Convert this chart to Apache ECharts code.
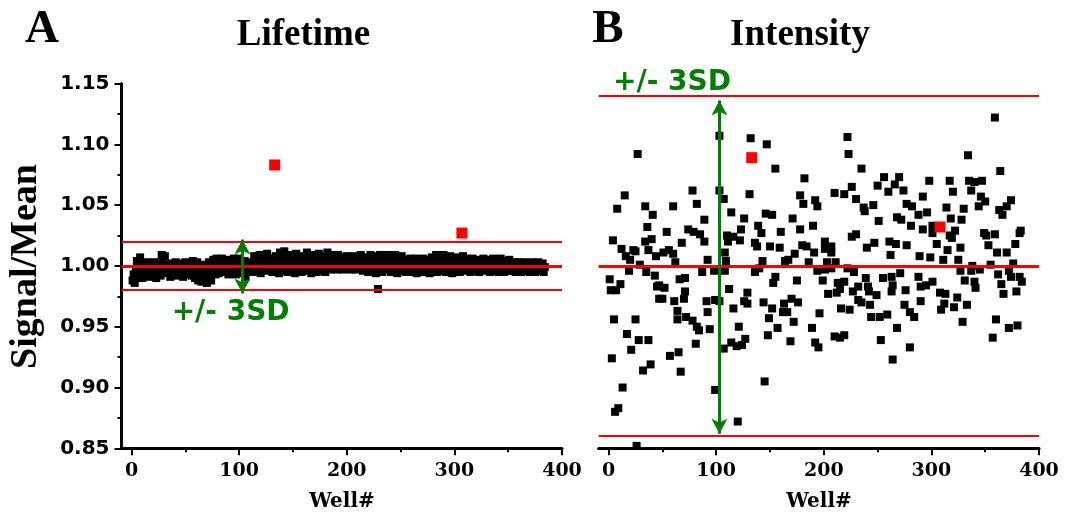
<!DOCTYPE html>
<html>
<head>
<meta charset="utf-8">
<script src="https://cdn.jsdelivr.net/npm/echarts@6/dist/echarts.min.js"></script>
<style>html,body{margin:0;padding:0;background:#fff}#c{width:1065px;height:512px}</style>
</head>
<body>
<div id="c"></div>
<script>
// ---- Panel A: Lifetime, Signal/Mean for wells 1..384 ----
const lifetimeValues = [
0.988,0.993,0.986,0.996,1.004,0.991,0.998,1.007,0.995,0.990,1.002,0.997,0.992,1.003,0.999,0.994,
0.991,1.001,0.996,0.993,1.003,0.998,0.990,0.995,1.002,0.997,0.992,1.009,1.004,0.996,1.008,0.999,
0.994,1.001,0.997,0.991,1.002,0.995,0.999,0.993,1.003,0.996,0.992,1.000,0.994,0.998,1.002,0.991,
0.996,1.003,0.993,0.999,0.995,1.002,0.997,0.992,1.004,0.998,0.990,0.995,1.003,0.988,0.993,0.999,
0.987,0.994,1.001,0.989,0.996,0.986,0.992,1.003,0.998,0.988,0.995,1.005,0.999,0.993,1.006,0.997,
0.994,1.002,0.998,1.006,0.995,1.000,1.004,0.996,1.001,0.993,1.005,0.998,1.002,0.995,1.006,0.999,
0.993,1.003,0.997,1.006,0.999,0.994,1.002,0.996,1.004,0.991,0.998,1.001,0.995,1.003,0.997,1.000,
0.996,1.008,1.001,0.995,1.006,0.999,1.009,0.994,1.003,0.998,1.007,0.996,1.002,1.010,0.997,1.004,
0.999,1.006,0.995,1.002,1.000,1.008,0.997,1.004,0.994,1.011,1.001,0.996,1.006,1.012,0.998,1.003,
0.995,1.009,1.002,0.997,1.007,0.999,1.004,0.994,1.010,1.001,0.997,1.006,1.002,0.995,1.008,0.999,
1.004,0.996,1.011,1.001,0.997,1.007,0.994,1.003,1.009,0.998,1.005,0.995,1.002,1.010,0.999,1.004,
0.996,1.008,1.001,0.995,1.006,1.011,0.998,1.003,0.997,1.009,1.002,0.999,1.006,1.001,0.997,1.009,
1.003,0.998,1.007,1.001,0.997,1.004,1.000,1.008,0.998,1.003,1.006,0.997,1.002,1.008,0.999,1.004,
0.997,1.006,1.001,0.998,1.009,1.003,0.996,1.005,1.001,0.998,1.007,0.995,1.002,1.009,0.999,1.004,
0.997,1.003,0.994,1.008,0.981,0.996,1.009,1.002,0.995,1.006,1.000,0.997,1.004,1.009,0.998,1.003,
0.995,1.007,1.001,0.997,1.009,1.003,0.994,1.006,1.000,0.996,1.008,1.002,0.998,1.005,0.995,1.001,
1.004,0.997,1.006,1.000,0.995,1.003,0.998,1.006,0.994,1.001,1.005,0.997,1.002,0.995,1.006,0.999,
1.003,0.996,1.005,0.999,0.994,1.002,1.007,0.997,1.004,0.999,1.009,0.995,1.003,1.008,0.998,1.004,
0.996,1.009,1.001,0.995,1.006,1.002,0.997,1.008,1.000,0.994,1.005,1.001,0.997,1.007,0.999,1.003,
0.995,1.004,0.998,1.008,1.001,0.996,1.006,1.002,0.997,1.005,0.995,1.001,1.006,0.998,1.003,0.996,
1.005,0.999,0.995,1.004,1.001,0.997,1.006,0.998,1.002,0.996,1.005,1.000,0.995,1.003,0.998,1.006,
1.001,0.996,1.004,0.999,0.995,1.002,1.006,0.997,1.001,0.995,1.004,0.998,1.002,0.996,1.005,0.999,
0.996,1.002,0.998,1.003,0.995,1.000,1.003,0.997,1.001,0.995,1.002,0.998,1.003,0.996,1.001,0.997,
1.002,0.995,0.999,1.003,0.997,1.001,0.995,1.002,0.998,1.003,0.996,1.000,0.997,1.002,0.995,0.999
];
const lifetimeOutliers = [[133, 1.083], [307, 1.027]];
const lifetimeLines = [1.0217, 1.0, 0.9773];   // +3SD, mean, -3SD

// ---- Panel B: Intensity, [well, Signal/Mean] ----
const intensityPoints = [
[27,1.092],[15,1.058],[8,1.047],[34,1.049],[41,1.042],[60,1.049],[78,1.062],[82,1.051],[36,1.032],[54,1.028],
[4,1.021],[12,1.014],[34,1.020],[40,1.022],[37,1.013],[23,1.013],[16,1.008],[20,1.005],[25,1.012],[44,1.008],
[51,1.011],[56,1.013],[60,1.010],[62,1.003],[68,1.019],[74,1.030],[79,1.028],[85,1.026],[89,1.020],[89,1.038],
[92,1.005],[19,0.996],[29,1.001],[35,0.995],[43,0.992],[47,0.984],[52,0.982],[45,0.983],[1,0.989],[2,0.980],
[7,0.980],[11,0.985],[47,0.973],[50,0.973],[61,0.971],[66,0.989],[71,0.990],[70,0.973],[71,0.979],[64,0.963],
[64,0.956],[72,0.958],[78,0.955],[82,0.950],[84,0.947],[87,0.995],[91,0.971],[92,0.962],[94,0.948],[81,0.936],
[5,0.956],[25,0.956],[17,0.944],[28,0.939],[37,0.939],[21,0.931],[3,0.924],[39,0.919],[32,0.914],[57,0.926],
[65,0.929],[67,0.913],[13,0.900],[9,0.883],[6,0.880],[26,0.852],
[103,1.107],[132,1.105],[147,1.100],[155,1.080],[182,1.072],[103,1.062],[107,1.055],[131,1.059],[178,1.058],[181,1.051],
[114,1.044],[126,1.039],[146,1.043],[152,1.042],[171,1.039],[123,1.030],[139,1.033],[142,1.027],[160,1.028],[178,1.030],
[110,1.025],[116,1.024],[122,1.021],[111,1.020],[136,1.019],[138,1.016],[150,1.016],[159,1.015],[180,1.017],[184,1.016],
[108,1.011],[173,1.010],[109,1.004],[143,1.004],[164,1.004],[167,1.005],[186,1.003],[98,0.996],[108,0.996],[136,0.995],
[140,0.998],[155,0.991],[153,0.986],[175,0.988],[112,0.981],[129,0.978],[99,0.972],[103,0.971],[126,0.971],[129,0.969],
[144,0.970],[152,0.965],[163,0.969],[170,0.973],[176,0.970],[116,0.965],[162,0.962],[166,0.962],[149,0.957],[172,0.954],
[121,0.950],[157,0.949],[148,0.943],[114,0.937],[119,0.934],[124,0.935],[127,0.940],[169,0.938],[107,0.932],[99,0.898],
[145,0.905],[120,0.872],
[222,1.106],[223,1.092],[235,1.080],[256,1.073],[270,1.073],[250,1.066],[266,1.067],[260,1.061],[274,1.062],[226,1.065],
[210,1.060],[219,1.059],[230,1.055],[237,1.048],[238,1.045],[246,1.050],[192,1.054],[194,1.049],[277,1.051],[282,1.049],
[288,1.042],[292,1.057],[251,1.037],[268,1.040],[272,1.038],[281,1.033],[292,1.030],[190,1.033],[226,1.024],[230,1.026],
[247,1.019],[240,1.015],[261,1.020],[267,1.018],[277,1.017],[201,1.020],[201,1.014],[207,1.016],[207,1.011],[191,1.011],
[262,1.009],[289,1.008],[194,0.996],[203,1.003],[211,1.003],[201,0.997],[207,0.998],[222,0.998],[228,0.995],[239,0.990],
[255,0.990],[263,0.991],[271,0.994],[288,0.991],[199,0.988],[213,0.986],[219,0.987],[204,0.977],[212,0.978],[215,0.981],
[227,0.979],[232,0.983],[241,0.983],[242,0.979],[249,0.976],[263,0.979],[264,0.984],[276,0.980],[232,0.972],[235,0.970],
[243,0.968],[275,0.968],[280,0.962],[284,0.958],[290,0.971],[196,0.961],[216,0.965],[224,0.964],[244,0.958],[252,0.958],
[259,0.960],[268,0.949],[189,0.949],[192,0.937],[195,0.933],[210,0.942],[215,0.941],[219,0.943],[253,0.939],[280,0.933],
[264,0.923],
[359,1.122],[334,1.091],[364,1.078],[298,1.070],[317,1.070],[335,1.070],[340,1.069],[347,1.070],[320,1.061],[337,1.062],
[346,1.057],[350,1.053],[344,1.049],[374,1.054],[370,1.049],[363,1.046],[366,1.042],[314,1.048],[330,1.047],[296,1.044],
[318,1.039],[328,1.038],[301,1.033],[301,1.027],[322,1.029],[317,1.025],[319,1.023],[349,1.027],[351,1.025],[359,1.026],
[353,1.017],[382,1.027],[383,1.029],[378,1.018],[305,1.018],[327,1.015],[315,1.013],[361,1.011],[370,1.011],[299,1.007],
[311,1.005],[325,1.005],[338,1.000],[345,0.997],[355,1.001],[376,1.002],[327,0.996],[337,0.996],[362,0.993],[372,0.996],
[374,0.991],[382,0.991],[384,0.987],[290,0.983],[295,0.984],[301,0.987],[331,0.988],[340,0.987],[341,0.982],[365,0.985],
[308,0.978],[313,0.977],[324,0.974],[367,0.977],[379,0.979],[312,0.969],[309,0.964],[321,0.966],[333,0.968],[329,0.954],
[360,0.956],[372,0.949],[380,0.951],[357,0.941]
];
const intensityOutliers = [[133, 1.089], [308, 1.032]];
const intensityLines = [1.136, 1.0, 0.862];   // +3SD, mean, -3SD

const arrowWells = [103, 103];   // position of the +/-3SD arrows (A, B)
const xMajorTicks = [0, 100, 200, 300, 400];
const xAllTicks = [0, 50, 100, 150, 200, 250, 300, 350, 400];
const panelTitles = ['Lifetime', 'Intensity'];
const panelLetters = ['A', 'B'];

const SERIF = "'Liberation Serif','Times New Roman',serif";
const DSERIF = "'DejaVu Serif',serif";
const DSANS = "'DejaVu Sans',sans-serif";

const lifetimePoints = lifetimeValues.map((v, i) => [i + 1, v]);

function redLines(vals) {
  return {
    silent: true, symbol: 'none', label: {show: false},
    data: vals.map((v, i) => ({yAxis: v, lineStyle: {color: '#ff0000', width: i === 1 ? 3.2 : 2.2, type: 'solid', opacity: 1}}))
  };
}
function arrow(well, lines) {
  return {
    silent: true, symbol: ['arrow', 'arrow'], symbolSize: [12, 15], label: {show: false},
    lineStyle: {color: '#008000', width: 3, type: 'solid', opacity: 1},
    data: [[{coord: [well, lines[0]]}, {coord: [well, lines[2]]}]]
  };
}
function xAxesFor(grid) {
  return [
    {gridIndex: grid, type: 'value', min: -9.3, max: 400, position: 'bottom',
     axisLine: {show: true, onZero: false, lineStyle: {color: '#000', width: 3}},
     axisTick: {show: true, inside: false, length: 4, customValues: xAllTicks, lineStyle: {color: '#000', width: 2}},
     axisLabel: {show: false}, splitLine: {show: false}},
    {gridIndex: grid, type: 'value', min: -9.3, max: 400, position: 'bottom', offset: 0,
     axisLine: {show: false, onZero: false},
     axisTick: {show: true, inside: false, length: 7, customValues: xMajorTicks, lineStyle: {color: '#000', width: 2}},
     axisLabel: {show: true, customValues: xMajorTicks, margin: 13, color: '#000',
                 fontFamily: DSERIF, fontWeight: 'bold', fontSize: 19},
     splitLine: {show: false}}
  ];
}

const chart = echarts.init(document.getElementById('c'), null, {renderer: 'canvas'});
chart.setOption({
  animation: false,
  backgroundColor: '#fff',
  grid: [
    {left: 121.5, top: 83.5, width: 440.5, height: 364.8, containLabel: false},
    {left: 598.6, top: 83.5, width: 440.4, height: 364.8, containLabel: false}
  ],
  xAxis: xAxesFor(0).concat(xAxesFor(1)),
  yAxis: [
    {gridIndex: 0, type: 'value', min: 0.85, max: 1.15, interval: 0.05,
     axisLine: {show: true, onZero: false, lineStyle: {color: '#000', width: 3}},
     axisTick: {show: true, inside: false, length: 7, lineStyle: {color: '#000', width: 2}},
     minorTick: {show: true, splitNumber: 2, length: 4, lineStyle: {color: '#000', width: 2}},
     axisLabel: {margin: 12, color: '#000', fontFamily: DSANS, fontWeight: 'bold', fontSize: 20,
                 formatter: v => v.toFixed(2)},
     splitLine: {show: false}},
    {gridIndex: 1, type: 'value', min: 0.85, max: 1.15, interval: 0.05, show: false,
     axisLine: {show: false}, axisTick: {show: false}, axisLabel: {show: false}, splitLine: {show: false}}
  ],
  series: [
    {type: 'scatter', xAxisIndex: 0, yAxisIndex: 0, data: lifetimePoints, symbol: 'rect', symbolSize: 8,
     itemStyle: {color: '#000', opacity: 1}, silent: true, markLine: redLines(lifetimeLines), z: 2},
    {type: 'scatter', xAxisIndex: 0, yAxisIndex: 0, data: lifetimeOutliers, symbol: 'rect', symbolSize: 11,
     itemStyle: {color: '#ff0000', opacity: 1}, silent: true, z: 3},
    {type: 'scatter', xAxisIndex: 0, yAxisIndex: 0, data: [], markLine: arrow(arrowWells[0], lifetimeLines), z: 4},
    {type: 'scatter', xAxisIndex: 2, yAxisIndex: 1, data: intensityPoints, symbol: 'rect', symbolSize: 8,
     itemStyle: {color: '#000', opacity: 1}, silent: true, markLine: redLines(intensityLines), z: 2},
    {type: 'scatter', xAxisIndex: 2, yAxisIndex: 1, data: intensityOutliers, symbol: 'rect', symbolSize: 11,
     itemStyle: {color: '#ff0000', opacity: 1}, silent: true, z: 3},
    {type: 'scatter', xAxisIndex: 2, yAxisIndex: 1, data: [], markLine: arrow(arrowWells[1], intensityLines), z: 4}
  ],
  graphic: [
    {type: 'text', x: 42, y: 29.5, style: {text: panelLetters[0], font: 'bold 47px ' + SERIF, fill: '#000', textAlign: 'center', textVerticalAlign: 'middle'}},
    {type: 'text', x: 303.5, y: 35, style: {text: panelTitles[0], font: 'bold 37px ' + SERIF, fill: '#000', textAlign: 'center', textVerticalAlign: 'middle'}},
    {type: 'text', x: 608, y: 29.5, style: {text: panelLetters[1], font: 'bold 47px ' + SERIF, fill: '#000', textAlign: 'center', textVerticalAlign: 'middle'}},
    {type: 'text', x: 800, y: 35, style: {text: panelTitles[1], font: 'bold 37px ' + SERIF, fill: '#000', textAlign: 'center', textVerticalAlign: 'middle'}},
    {type: 'text', x: 26.5, y: 266.5, rotation: Math.PI / 2, style: {text: 'Signal/Mean', font: 'bold 38px ' + SERIF, fill: '#000', textAlign: 'center', textVerticalAlign: 'middle'}},
    {type: 'text', x: 342, y: 502, style: {text: 'Well#', font: 'bold 20px ' + DSERIF, fill: '#000', textAlign: 'center', textVerticalAlign: 'middle'}},
    {type: 'text', x: 819, y: 502, style: {text: 'Well#', font: 'bold 20px ' + DSERIF, fill: '#000', textAlign: 'center', textVerticalAlign: 'middle'}},
    {type: 'text', x: 230.6, y: 312.5, style: {text: '+/- 3SD', font: 'bold 28px ' + DSANS, fill: '#008000', textAlign: 'center', textVerticalAlign: 'middle'}},
    {type: 'text', x: 672, y: 82.5, style: {text: '+/- 3SD', font: 'bold 28px ' + DSANS, fill: '#008000', textAlign: 'center', textVerticalAlign: 'middle'}}
  ]
});
</script>
</body>
</html>
